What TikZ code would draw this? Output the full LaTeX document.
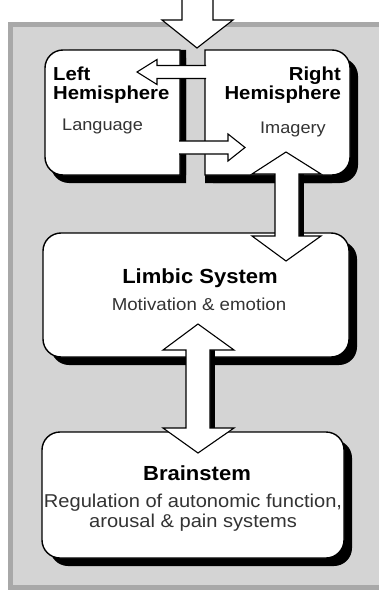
\documentclass[tikz,border=0pt]{standalone}
\usepackage{fontspec}
\setmainfont{Liberation Sans}[FakeStretch=1.08]
\newcommand{\fsz}[2]{\fontsize{#1pt}{#2pt}\selectfont}
\definecolor{panelgray}{HTML}{D4D4D4}
\definecolor{panelrim}{HTML}{A8A8A8}
\definecolor{desctext}{HTML}{333333}
\tikzset{
  boxline/.style={draw=black, line width=1.4pt, fill=white},
  shadowfill/.style={fill=black},
  blockarrow/.style={draw=black, line width=1.1pt, fill=white, line join=miter},
  titletext/.style={inner sep=0pt, text=black, font=\fsz{18.8}{19}\bfseries},
  bigtitle/.style={inner sep=0pt, text=black, font=\fsz{20.4}{22}\bfseries},
  desc/.style={inner sep=0pt, text=desctext, font=\fsz{16.8}{20}},
}
\begin{document}
\begin{tikzpicture}[x=1pt, y=-1pt]
\useasboundingbox (0,0) rectangle (379,591);

% grey backdrop panel with darker rim
\fill[panelrim] (8,22) rectangle (379,590);
\fill[panelgray] (13,27) rectangle (379,585);

% ---- hemisphere boxes -------------------------------------------------
\def\lefthemipath{(180,50) -- (63,50) arc[start angle=270, end angle=180, radius=18]
  -- (45,157) arc[start angle=180, end angle=90, radius=18] -- (180,175) -- cycle}
\def\righthemipath{(205,50) -- (332,50) arc[start angle=270, end angle=360, radius=18]
  -- (350,157) arc[start angle=0, end angle=90, radius=18] -- (205,175) -- cycle}
\fill[shadowfill, shift={(6,0)}] \lefthemipath;
\fill[shadowfill, shift={(6,8)}] \lefthemipath;
\fill[shadowfill, shift={(0,8)}] \righthemipath;
\fill[shadowfill, shift={(8,8)}] \righthemipath;
\path[boxline] \lefthemipath;
\path[boxline] \righthemipath;

% ---- limbic and brainstem boxes ----------------------------------------
\fill[shadowfill, rounded corners=18pt] (51,241) rectangle (357,365);
\path[boxline, rounded corners=18pt] (43,233) rectangle (349,357);
\fill[shadowfill, rounded corners=18pt] (50,440) rectangle (352,566);
\path[boxline, rounded corners=18pt] (42,432) rectangle (344,558);

% ---- incoming arrow from above ------------------------------------------
\fill[white] (182,-2) -- (182,20) -- (162,20) -- (197,48) -- (233,20) -- (213,20) -- (213,-2) -- cycle;
\draw[blockarrow, fill=none] (182,-2) -- (182,20) -- (162,20) -- (197,48) -- (233,20) -- (213,20) -- (213,-2);

% ---- crossing arrows between the hemispheres ------------------------------
\fill[white] (206,65.5) -- (157,65.5) -- (157,59.5) -- (137,72) -- (157,84.5) -- (157,78.5) -- (206,78.5) -- cycle;
\draw[blockarrow, fill=none] (206,65.5) -- (157,65.5) -- (157,59.5) -- (137,72) -- (157,84.5) -- (157,78.5) -- (206,78.5);
\fill[white] (179,141) -- (228,141) -- (228,134) -- (245,147.5) -- (228,161) -- (228,154) -- (179,154) -- cycle;
\draw[blockarrow, fill=none] (179,141) -- (228,141) -- (228,134) -- (245,147.5) -- (228,161) -- (228,154) -- (179,154);

% ---- two-way arrow: right hemisphere <-> limbic system --------------------
\fill[black] (298,174) rectangle (304,236);
\path[blockarrow] (275,174) -- (252,174) -- (286,152) -- (321,174) -- (299,174)
  -- (299,236) -- (321,236) -- (286,261) -- (252,236) -- (275,236) -- cycle;

% ---- two-way arrow: limbic system <-> brainstem ---------------------------
\fill[black] (209,350) rectangle (215,428);
\path[blockarrow] (186,350) -- (163,350) -- (198,324) -- (234,350) -- (210,350)
  -- (210,428) -- (234,428) -- (198,453) -- (163,428) -- (186,428) -- cycle;

% ---- labels (base anchor of a two-line label sits on its last line) -------
\node[titletext, anchor=base west, align=left] (lefttitle) at (53,100) {Left\\Hemisphere};
\node[titletext, anchor=base east, align=right] (righttitle) at (341,100) {Right\\Hemisphere};
\node[desc, anchor=base west] (language) at (62,131) {Language};
\node[desc, anchor=base west] (imagery) at (260,133) {Imagery};

\node[bigtitle, anchor=base] (limbic) at (200,283) {Limbic System};
\node[desc, font=\fsz{17.3}{20}, anchor=base] (motivation) at (199,310) {Motivation \& emotion};

\node[bigtitle, anchor=base] (brainstem) at (197,480) {Brainstem};
\node[desc, font=\fsz{18.6}{20}, anchor=base, align=center] (regulation) at (193,527)
  {Regulation of autonomic function,\\arousal \& pain systems};
\end{tikzpicture}
\end{document}
